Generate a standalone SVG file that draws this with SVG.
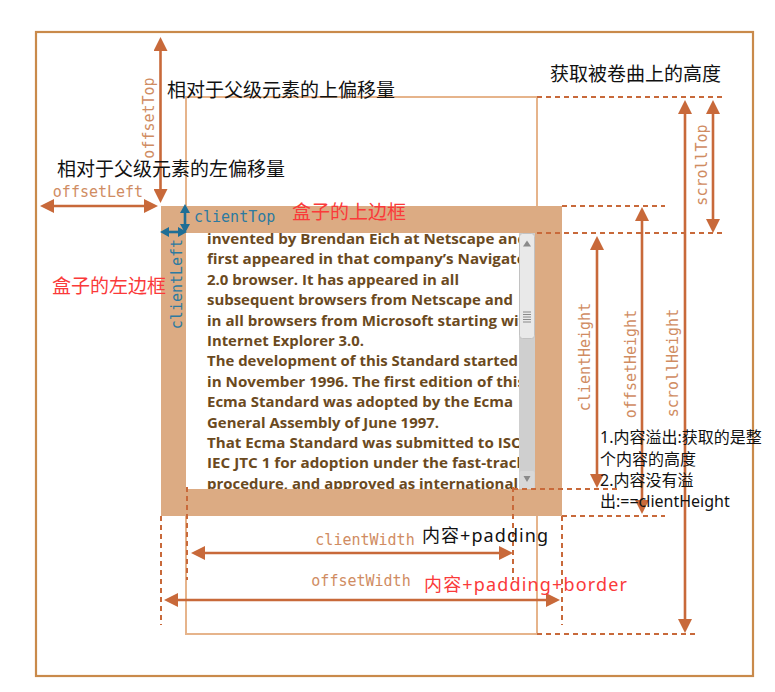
<svg xmlns="http://www.w3.org/2000/svg" width="775" height="692" viewBox="0 0 775 692">
<style>
.arr{fill:none;stroke:#c8693a;stroke-width:2.6;marker-start:url(#ho);marker-end:url(#ho)}
.barr{fill:none;stroke:#1f6e95;stroke-width:2.6;marker-start:url(#hb);marker-end:url(#hb)}
.dash{fill:none;stroke:#c8693a;stroke-width:2;stroke-dasharray:5 4}
.lbl{font-family:"DejaVu Sans Mono","Liberation Mono",monospace;font-size:15px;fill:#d08c62}
.blbl{font-family:"DejaVu Sans Mono","Liberation Mono",monospace;font-size:15px;fill:#2c7aa0}
.cn{font-family:"Noto Sans","Noto Sans CJK SC",sans-serif;font-size:19px;fill:#111}
.s18{font-size:18px}
.s16{font-size:16px}
.red{fill:#fa3a3a}
.body{font-family:"Open Sans","Noto Sans",sans-serif;font-weight:bold;font-size:14.5px;fill:#6b4a1e}
</style>
<defs>
<marker id="ho" markerUnits="userSpaceOnUse" viewBox="0 0 14 14" markerWidth="14" markerHeight="14" refX="1" refY="7" orient="auto-start-reverse"><path d="M0,0 L14,7 L0,14 z" fill="#c8693a"/></marker>
<marker id="hb" markerUnits="userSpaceOnUse" viewBox="0 0 9 10" markerWidth="9" markerHeight="10" refX="1" refY="5" orient="auto-start-reverse"><path d="M0,0 L9,5 L0,10 z" fill="#1f6e95"/></marker>
<clipPath id="clipText"><rect x="186" y="233" width="333" height="256"/></clipPath>
</defs>
<rect width="775" height="692" fill="#fff"/>
<g id="frame"><rect x="36" y="32" width="717" height="644" fill="none" stroke="#c98a4b" stroke-width="2.2"/></g>
<g id="content-box"><rect x="186" y="97" width="351" height="537" fill="none" stroke="#e6b48b" stroke-width="2"/></g>
<g id="border-box">
<rect x="161" y="206" width="401" height="310" fill="#dcab83"/>
<rect x="186" y="233" width="349" height="256" fill="#fff"/>
</g>
<g id="content-text" class="body" clip-path="url(#clipText)">
<text x="207" y="244" textLength="320" lengthAdjust="spacingAndGlyphs">invented by Brendan Eich at Netscape and</text>
<text x="207" y="264.4" textLength="326" lengthAdjust="spacingAndGlyphs">first appeared in that company’s Navigator</text>
<text x="207" y="284.8" textLength="252" lengthAdjust="spacingAndGlyphs">2.0 browser. It has appeared in all</text>
<text x="207" y="305.2" textLength="306" lengthAdjust="spacingAndGlyphs">subsequent browsers from Netscape and</text>
<text x="207" y="325.6" textLength="328" lengthAdjust="spacingAndGlyphs">in all browsers from Microsoft starting with</text>
<text x="207" y="346" textLength="157" lengthAdjust="spacingAndGlyphs">Internet Explorer 3.0.</text>
<text x="207" y="366.4" textLength="311" lengthAdjust="spacingAndGlyphs">The development of this Standard started</text>
<text x="207" y="386.8" textLength="318" lengthAdjust="spacingAndGlyphs">in November 1996. The first edition of this</text>
<text x="207" y="407.2" textLength="306" lengthAdjust="spacingAndGlyphs">Ecma Standard was adopted by the Ecma</text>
<text x="207" y="427.6" textLength="232" lengthAdjust="spacingAndGlyphs">General Assembly of June 1997.</text>
<text x="207" y="448" textLength="316" lengthAdjust="spacingAndGlyphs">That Ecma Standard was submitted to ISO</text>
<text x="207" y="468.4" textLength="319" lengthAdjust="spacingAndGlyphs">IEC JTC 1 for adoption under the fast-track</text>
<text x="207" y="488.8" textLength="311" lengthAdjust="spacingAndGlyphs">procedure, and approved as international</text>
</g>
<g id="scrollbar">
<rect x="519" y="233" width="16" height="256" fill="#cfcfcf"/>
<rect x="519.5" y="233.5" width="15" height="105" rx="3" fill="#e9e9e9" stroke="#c2c2c2"/>
<path d="M523,246.5 L527,240.5 L531,246.5 z" fill="#8a8a8a"/>
<path d="M523,312 H531 M523,314.5 H531 M523,317 H531 M523,319.5 H531 M523,322 H531" stroke="#8a8a8a" stroke-width="1"/>
<rect x="519.5" y="471" width="15" height="18" rx="2" fill="#d8d8d8"/>
<path d="M523.5,476 L530.5,476 L527,482 z" fill="#8a8a8a"/>
</g>
<g id="connectors">
<path class="dash" d="M537,97 H723 M562,206 H665 M537,233 H723 M513,489 H617 M562,516 H665 M537,634 H695"/>
<path class="dash" d="M161,516 V625 M187,487 V580 M513,487 V580 M562,516 V625"/>
<path class="arr" d="M160.5,50 V190"/>
<path class="arr" d="M53,206 H145"/>
<path class="arr" d="M713,113 V220"/>
<path class="arr" d="M685,113 V620"/>
<path class="arr" d="M642,220 V501"/>
<path class="arr" d="M597,249 V475"/>
<path class="arr" d="M204,553 H500"/>
<path class="arr" d="M177,600 H547"/>
<path class="barr" d="M185,212 V225"/>
<path class="barr" d="M168,232 H179"/>
</g>
<g id="labels">
<text class="lbl" transform="translate(154,118) rotate(-90)" text-anchor="middle">offsetTop</text>
<text class="lbl" x="98" y="197" text-anchor="middle">offsetLeft</text>
<text class="blbl" x="194" y="222">clientTop</text>
<text class="blbl" transform="translate(182,284) rotate(-90)" text-anchor="middle">clientLeft</text>
<text class="lbl" transform="translate(707,165) rotate(-90)" text-anchor="middle">scrollTop</text>
<text class="lbl" transform="translate(678,363) rotate(-90)" text-anchor="middle">scrollHeight</text>
<text class="lbl" transform="translate(636,364) rotate(-90)" text-anchor="middle">offsetHeight</text>
<text class="lbl" transform="translate(590,357) rotate(-90)" text-anchor="middle">clientHeight</text>
<text class="lbl" x="365" y="545" text-anchor="middle">clientWidth</text>
<text class="lbl" x="361" y="586" text-anchor="middle">offsetWidth</text>
</g>
<g id="notes">
<text class="cn" x="167" y="97">相对于父级元素的上偏移量</text>
<text class="cn" x="57" y="175.5">相对于父级元素的左偏移量</text>
<text class="cn red" x="292" y="218.5">盒子的上边框</text>
<text class="cn red" x="52" y="292.5">盒子的左边框</text>
<text class="cn" x="550" y="80.5">获取被卷曲上的高度</text>
<text class="cn s18" x="422" y="542" textLength="126">内容+padding</text>
<text class="cn s18 red" x="424" y="591" textLength="203">内容+padding+border</text>
<text class="cn s16"><tspan x="600" y="443">1.内容溢出:获取的是整</tspan><tspan x="600" y="464.5">个内容的高度</tspan><tspan x="600" y="486">2.内容没有溢</tspan><tspan x="600" y="507">出:==clientHeight</tspan></text>
</g>
</svg>
